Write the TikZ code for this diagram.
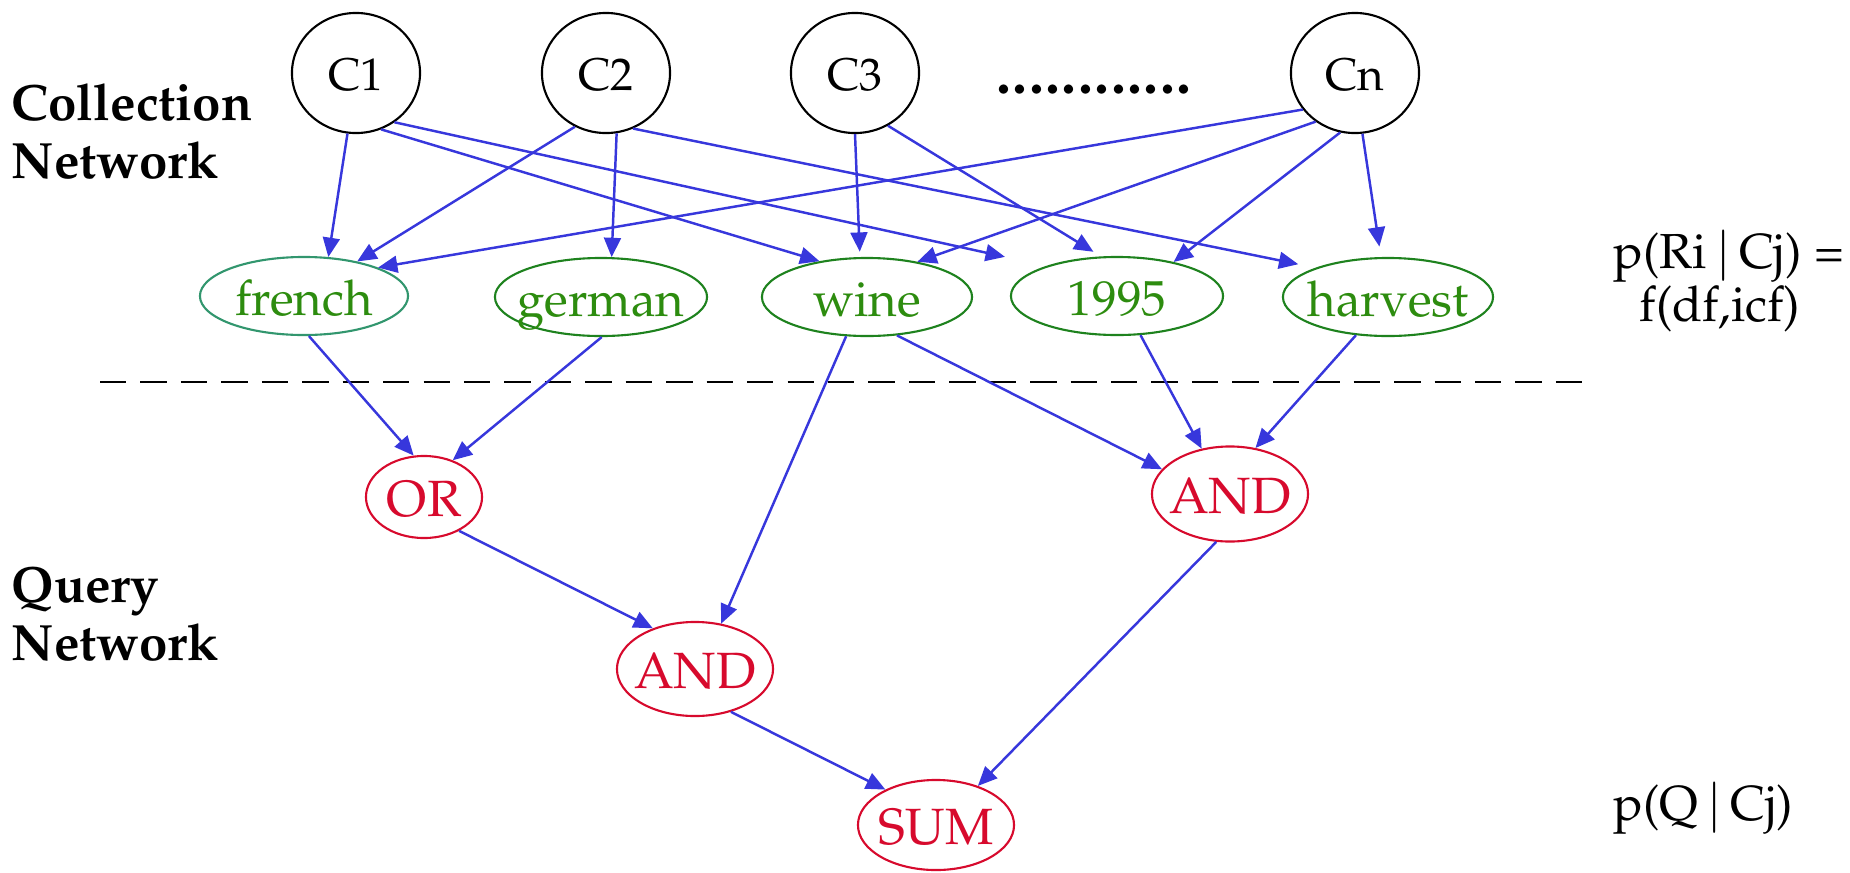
\documentclass[tikz,border=0pt]{standalone}
\usepackage[T1]{fontenc}
\usepackage{mathpazo}
\usetikzlibrary{shapes.geometric,arrows.meta}
\definecolor{cblue}{RGB}{55,55,220}
\definecolor{cgreen}{RGB}{45,140,15}
\definecolor{cgreenb}{RGB}{30,130,30}
\definecolor{cteal}{RGB}{50,150,110}
\definecolor{cred}{RGB}{215,10,45}
\newcommand{\ctr}[1]{\makebox[0pt]{\raisebox{-0.39em}[0pt][0pt]{#1}}}
\newcommand{\dd}{.\kern0.4pt}
\newcommand{\vb}{\,$|$\,}
\begin{document}
\begin{tikzpicture}[x=0.01cm,y=-0.01cm,
  cnode/.style={ellipse,draw=black,line width=0.6pt,minimum width=1.28cm,minimum height=1.20cm,inner sep=0pt,font=\fontsize{13}{15}\selectfont},
  tnode/.style={ellipse,draw=cgreenb,text=cgreen,line width=0.6pt,minimum width=2.10cm,minimum height=0.78cm,inner sep=0pt,font=\fontsize{14}{16}\selectfont},
  qnode/.style={ellipse,draw=cred,text=cred,line width=0.6pt,minimum width=1.56cm,minimum height=0.93cm,inner sep=0pt,font=\fontsize{14.5}{17}\selectfont},
  arr/.style={-{Triangle[length=5.5pt,width=4.8pt]},draw=cblue,line width=0.7pt},
  lbl/.style={font=\fontsize{14.5}{16.5}\selectfont\bfseries,anchor=base west,inner sep=0pt},
  rlbl/.style={font=\fontsize{14}{16}\selectfont,anchor=base,inner sep=0pt}]
\useasboundingbox (0,0) rectangle (1850,872);
% collection nodes
\node[cnode] (c1) at (356,73) {\ctr{C1}};
\node[cnode] (c2) at (606,73) {\ctr{C2}};
\node[cnode] (c3) at (855,73) {\ctr{C3}};
\node[cnode] (cn) at (1355,73) {\ctr{Cn}};
\node[font=\fontsize{17}{20}\selectfont\bfseries,anchor=base,inner sep=0pt] (dots) at (1094,93) {\dd\dd\dd\dd\dd\dd\dd\dd\dd\dd\dd.};
% labels
\node[lbl] (lc1) at (11,120) {Collection};
\node[lbl] (lc2) at (11,178) {Network};
\node[lbl] (lq1) at (11,602) {Query};
\node[lbl] (lq2) at (11,660) {Network};
\node[rlbl] (lr1) at (1729,268) {p(Ri\vb Cj) =};
\node[rlbl] (lr2) at (1720,321) {f(df,icf)};
\node[rlbl,anchor=base west] (lp) at (1613,820) {p(Q\vb Cj)};
% term nodes
\node[tnode,draw=cteal,minimum width=2.08cm] (french) at (304,296) {\ctr{french}};
\node[tnode,minimum width=2.12cm] (german) at (601,297) {\ctr{german}};
\node[tnode] (wine) at (867,297) {\ctr{wine}};
\node[tnode,minimum width=2.12cm] (y1995) at (1117,296) {\ctr{1995}};
\node[tnode] (harvest) at (1388,297) {\ctr{harvest}};
% dashed separator
\coordinate (dl) at (100,382);
\coordinate (dr) at (1588,382);
\draw[line width=0.6pt,dash pattern=on 7.5pt off 4pt] (dl) -- (dr);
% query nodes
\node[qnode,minimum width=1.16cm,minimum height=0.82cm] (or) at (424,497) {\ctr{OR}};
\node[qnode,minimum height=0.95cm] (andr) at (1230,494) {\ctr{AND}};
\node[qnode,minimum height=0.94cm] (andm) at (695,669) {\ctr{AND}};
\node[qnode,minimum height=0.90cm] (sum) at (936,825) {\ctr{SUM}};
% collection -> terms
\draw[arr] (c1.-98) -- (french.58);
\draw[arr] (c1.-66) -- (wine.143);
\draw[arr,shorten >=12pt] (c1.-52) -- (y1995.157);
\draw[arr] (c2.-120) -- (french.33);
\draw[arr] (c2.-80) -- (german.75);
\draw[arr,shorten >=5pt] (c2.-64) -- (harvest.158);
\draw[arr,shorten >=1.5pt] (c3.-90) -- (wine.100);
\draw[arr,shorten >=2.5pt] (c3.-58) -- (y1995.112);
\draw[arr] (cn.-145) -- (french.21);
\draw[arr] (cn.-129) -- (wine.35);
\draw[arr] (cn.-104) -- (y1995.31);
\draw[arr,shorten >=3pt] (cn.-83) -- (harvest.100);
% terms -> query
\draw[arr] (french.-83) -- (or.104);
\draw[arr] (german.-89) -- (or.52);
\draw[arr] (wine.-118) -- (andm.60);
\draw[arr] (wine.-52) -- (andr.160);
\draw[arr] (y1995.-59) -- (andr.122);
\draw[arr] (harvest.-130) -- (andr.61);
\draw[arr] (or.-44) -- (andm.136);
\draw[arr] (andm.-50) -- (sum.145);
\draw[arr] (andr.-106) -- (sum.43);
\end{tikzpicture}
\end{document}
